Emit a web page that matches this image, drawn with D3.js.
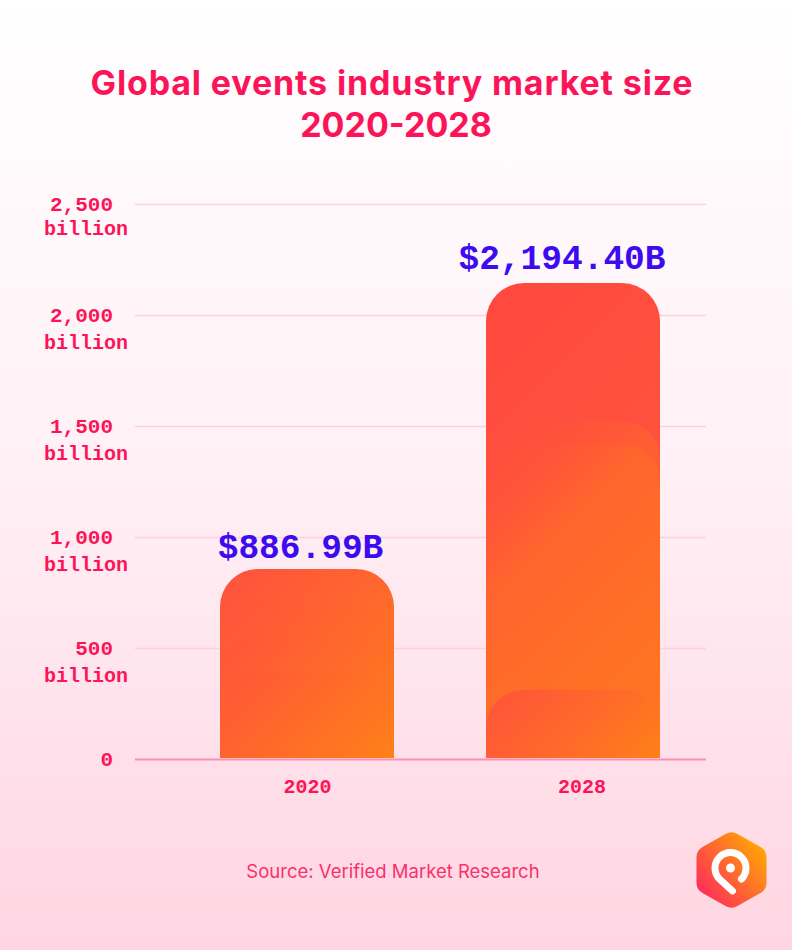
<!DOCTYPE html>
<html>
<head>
<meta charset="utf-8">
<script src="https://d3js.org/d3.v7.min.js"></script>
<style>
	html, body {margin: 0; padding: 0; background: #fff;}
	svg {display: block;}
	.title {font-family: "Inter", sans-serif; font-weight: 700; font-size: 34px; fill: #fb1558; text-anchor: middle;}
	.tick-label {font-family: "Liberation Mono", monospace; font-weight: 700; font-size: 20px; fill: #fb1558;}
	.tick-num {font-size: 21px;}
	.value-label {font-family: "Liberation Mono", monospace; font-weight: 700; font-size: 34.5px; fill: #3d0bf0; text-anchor: middle;}
	.source {font-family: "Inter", sans-serif; font-size: 18.5px; fill: #fb2f6b; text-anchor: middle;}
</style>
</head>
<body>
<div id="container"></div>
<script>
var width = 792, height = 950;

// drawn is the height the bar has in the picture, label is what is printed over it
var data = [
	{year: '2020', drawn: 856, label: '$886.99B', layers: [698, 554, 392]},
	{year: '2028', drawn: 2144, label: '$2,194.40B', layers: [1523, 1419, 311]}
];

var svg = d3.select("#container").append("svg")
	.attr("width", width)
	.attr("height", height);

var defs = svg.append("defs");

function gradient(id, x1, y1, x2, y2, stops, userSpace) {
	var g = defs.append("linearGradient").attr("id", id)
		.attr("x1", x1).attr("y1", y1).attr("x2", x2).attr("y2", y2);
	if (userSpace) g.attr("gradientUnits", "userSpaceOnUse");
	stops.forEach(function(s) {
		g.append("stop").attr("offset", s[0]).attr("stop-color", s[1]).attr("stop-opacity", s[2] === undefined ? 1 : s[2]);
	});
}

gradient("bg", 0, 0, 0, 1, [[0, "#ffffff"], [0.5, "#fff0f5"], [1, "#ffd5e2"]]);
gradient("logo", 0, 1, 1, 0.15, [[0, "#ff1a66"], [1, "#ffae00"]]);

svg.append("rect").attr("width", width).attr("height", height).attr("fill", "url(#bg)");

svg.append("text").attr("class", "title").attr("x", 392).attr("y", 95).style("letter-spacing", "0.85px").text("Global events industry market size");
svg.append("text").attr("class", "title").attr("x", 396).attr("y", 137).text("2020-2028");

// scales
var y = d3.scaleLinear().domain([0, 2500]).range([759, 204]);
var xBar = d3.scalePoint().domain(['2020', '2028']).range([307, 573]);
var xLabel = d3.scalePoint().domain(['2020', '2028']).range([307.5, 582]);
var barWidth = 174, radius = 38;

// y axis: gridlines, then two line labels
var yAxis = d3.axisLeft(y).tickValues([0, 500, 1000, 1500, 2000, 2500]).tickSize(-571).tickFormat("");
var yG = svg.append("g").attr("class", "y axis").attr("transform", "translate(135,0)").call(yAxis);
yG.select(".domain").remove();
yG.selectAll(".tick line").attr("stroke", function(d) { return d == 0 ? "#ff8fb0" : "#fdcfdf"; })
	.attr("stroke-width", function(d) { return d == 0 ? 2 : 1.5; });

var yLabels = svg.append("g").selectAll("g").data(y.ticks(5)).enter().append("g")
	.attr("transform", function(d) { return "translate(0," + y(d) + ")"; });
yLabels.append("text").attr("class", "tick-label tick-num").attr("x", 113).attr("y", 7).style("text-anchor", "end")
	.text(function(d) { return d == 0 ? "0" : d3.format(",")(d); });
yLabels.filter(function(d) { return d > 0; }).append("text").attr("class", "tick-label")
	.attr("x", 128).attr("y", function(d) { return d >= 2500 ? 31 : 34; }).style("text-anchor", "end").text("billion");

function barPath(cx, v) {
	var l = cx - barWidth / 2, r = cx + barWidth / 2, t = y(v), b = y(0) - 1;
	return "M" + l + "," + b + "V" + (t + radius) + "A" + radius + "," + radius + " 0 0 1 " + (l + radius) + "," + t +
		"H" + (r - radius) + "A" + radius + "," + radius + " 0 0 1 " + r + "," + (t + radius) + "V" + b + "Z";
}

// every shape gets its own 45 degree gradient from its top left corner
function shapeGradient(id, cx, v, stops) {
	var l = cx - barWidth / 2, t = y(v), len = (barWidth + y(0) - t) / 2;
	gradient(id, l, t, l + len, t + len, stops, true);
	return "url(#" + id + ")";
}

// stops for the overlapping shapes: the low one in 2028 is nearly solid, the rest are faint
function layerStops(i, v) {
	if (i == 0) return [[0, "#ff4c40", 0.25], [1, "#ff8018", 0.35]];
	if (v < 500) return [[0, "#ff4c40", 0.75], [1, "#ff8018", 1]];
	return [[0, "#ff4c40", 0], [0.33, "#ff8018", 0.22], [1, "#ff8018", 0.5]];
}

// bars, with the overlapping shapes on top
data.forEach(function(d, i) {
	var g = svg.append("g").attr("class", "bar");
	g.append("path").attr("d", barPath(xBar(d.year), d.drawn))
		.attr("fill", shapeGradient("bar" + i, xBar(d.year), d.drawn,
			i == 0 ? [[0, "#ff5040"], [1, "#ff8018"]] : [[0, "#ff4840"], [1, "#ff5c38"]]));
	g.selectAll(".layer").data(d.layers).enter().append("path")
		.attr("class", "layer")
		.attr("d", function(v) { return barPath(xBar(d.year), v); })
		.attr("fill", function(v, j) {
			return shapeGradient("layer" + i + j, xBar(d.year), v, layerStops(i, v));
		});
	svg.append("text").attr("class", "value-label")
		.attr("x", i == 0 ? 300.5 : 562)
		.attr("y", i == 0 ? 558 : 269)
		.text(d.label);
	svg.append("text").attr("class", "tick-label").attr("x", xLabel(d.year)).attr("y", 793)
		.style("text-anchor", "middle").text(d.year);
});

svg.append("text").attr("class", "source").attr("x", 393).attr("y", 878).text("Source: Verified Market Research");

// logo
var logo = svg.append("g").attr("transform", "translate(731.5,870)");
logo.append("path")
	.attr("d", "M-6,-36Q0,-39.5 6,-36L29,-23Q35,-19.5 35,-13V13Q35,19.5 29,23L6,36Q0,39.5 -6,36L-29,23Q-35,19.5 -35,13V-13Q-35,-19.5 -29,-23Z")
	.attr("fill", "url(#logo)");
logo.append("path")
	.attr("d", "M1,21L-12,9A15.5,15.5 0 1 1 10,9")
	.attr("fill", "none").attr("stroke", "#fff").attr("stroke-width", 7).attr("stroke-linecap", "round");
logo.append("circle").attr("cx", -1).attr("cy", -2).attr("r", 4.5).attr("fill", "#fff");
</script>
</body>
</html>
